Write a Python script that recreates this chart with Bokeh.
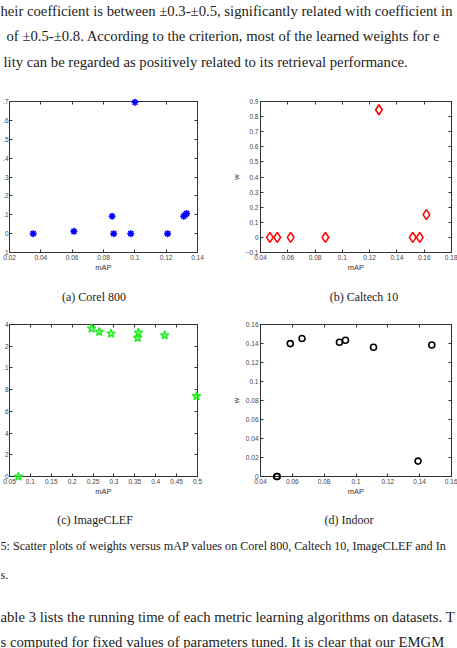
from bokeh.plotting import figure
from bokeh.layouts import column, row
from bokeh.models import Range1d, FixedTicker, CustomJSTickFormatter, LinearAxis
from bokeh.core.properties import value
from bokeh.embed import file_html
from bokeh.resources import INLINE

# ---------------- data ----------------
corel_map = [0.0351, 0.0611, 0.0855, 0.0865, 0.0974, 0.1001, 0.1209, 0.1312, 0.1322, 0.1331]
corel_w = [0.0, 0.012, 0.092, 0.0, 0.0, 0.696, 0.0, 0.092, 0.100, 0.107]

caltech_map = [0.0469, 0.0523, 0.0621, 0.0876, 0.1268, 0.1516, 0.1567, 0.1616]
caltech_w = [0.0, 0.0, 0.0, 0.0, 0.845, 0.0, 0.0, 0.151]

clef_map = [0.0712, 0.2467, 0.2648, 0.2931, 0.3568, 0.3584, 0.4213, 0.4976]
clef_w = [0.0, 0.1363, 0.1332, 0.1317, 0.1277, 0.1326, 0.1301, 0.074]

indoor_map = [0.0502, 0.0505, 0.0587, 0.0661, 0.0896, 0.0934, 0.1110, 0.1390, 0.1476]
indoor_w = [0.0, 0.0, 0.1399, 0.1452, 0.1413, 0.1434, 0.1360, 0.0162, 0.1385]

# ---------------- ticks / tick labels ----------------
corel_xticks = [0.02, 0.04, 0.06, 0.08, 0.10, 0.12, 0.14]
corel_xlabels = ["0.02", "0.04", "0.06", "0.08", "0.1", "0.12", "0.14"]
corel_yticks = [-0.1, 0.0, 0.1, 0.2, 0.3, 0.4, 0.5, 0.6, 0.7]
corel_ylabels = ["1", "0", ".1", ".2", ".3", ".4", ".5", ".6", ".7"]   # cut at page edge

caltech_xticks = [0.04, 0.06, 0.08, 0.10, 0.12, 0.14, 0.16, 0.18]
caltech_xlabels = ["0.04", "0.06", "0.08", "0.1", "0.12", "0.14", "0.16", "0.18"]
caltech_yticks = [-0.1, 0.0, 0.1, 0.2, 0.3, 0.4, 0.5, 0.6, 0.7, 0.8, 0.9]
caltech_ylabels = ["\u22120.1", "0", "0.1", "0.2", "0.3", "0.4", "0.5", "0.6", "0.7", "0.8", "0.9"]

clef_xticks = [0.05, 0.10, 0.15, 0.20, 0.25, 0.30, 0.35, 0.40, 0.45, 0.50]
clef_xlabels = ["0.05", "0.1", "0.15", "0.2", "0.25", "0.3", "0.35", "0.4", "0.45", "0.5"]
clef_yticks = [0.0, 0.02, 0.04, 0.06, 0.08, 0.10, 0.12, 0.14]
clef_ylabels = ["0", "2", "4", "6", "8", ".1", "2", "4"]   # cut at page edge

indoor_xticks = [0.04, 0.06, 0.08, 0.10, 0.12, 0.14, 0.16]
indoor_xlabels = ["0.04", "0.06", "0.08", "0.1", "0.12", "0.14", "0.16"]
indoor_yticks = [0.0, 0.02, 0.04, 0.06, 0.08, 0.10, 0.12, 0.14, 0.16]
indoor_ylabels = ["0", "0.02", "0.04", "0.06", "0.08", "0.1", "0.12", "0.14", "0.16"]

# ---------------- text ----------------
top_lines = [
    "heir coefficient is between \u00b10.3-\u00b10.5, significantly related with coefficient in",
    "of \u00b10.5-\u00b10.8.  According to the criterion, most of the learned weights for e",
    "lity can be regarded as positively related to its retrieval performance.",
]
sub_captions = ["(a)  Corel 800", "(b)  Caltech 10", "(c)  ImageCLEF", "(d)  Indoor"]
fig_caption = [
    "5: Scatter plots of weights versus mAP values on Corel 800, Caltech 10, ImageCLEF and In",
    "s.",
]
bottom_lines = [
    "able 3 lists the running time of each metric learning algorithms on datasets. T",
    "s computed for fixed values of parameters tuned. It is clear that our EMGM",
]

AX = "#333333"
TL = "#444444"
SANS = "Liberation Sans"
SERIF = "Liberation Serif"
TXT = "#1c1c1c"

FMT_CODE = """
let best = 0;
for (let i = 0; i < vals.length; i++) {
  if (Math.abs(vals[i] - tick) < Math.abs(vals[best] - tick)) best = i;
}
return labs[best];
"""


def fmt(vals, labs):
    return CustomJSTickFormatter(args=dict(vals=vals, labs=labs), code=FMT_CODE)


def style_axis(ax, ticks, labels, standoff):
    ax.ticker = FixedTicker(ticks=ticks)
    ax.formatter = fmt(ticks, labels)
    ax.axis_line_color = AX
    ax.major_tick_line_color = AX
    ax.major_tick_in = 3
    ax.major_tick_out = 0
    ax.minor_tick_line_color = None
    ax.major_label_text_font = SANS
    ax.major_label_text_font_size = "6.5px"
    ax.major_label_text_color = TL
    ax.major_label_standoff = standoff
    ax.axis_label_text_font = SANS
    ax.axis_label_text_font_size = "7.5px"
    ax.axis_label_text_font_style = "normal"
    ax.axis_label_text_color = AX


def dummy_axis(ticks):
    ax = LinearAxis(ticker=FixedTicker(ticks=ticks),
                    formatter=CustomJSTickFormatter(code="return '';"))
    ax.axis_line_color = AX
    ax.major_tick_line_color = AX
    ax.major_tick_in = 3
    ax.major_tick_out = 0
    ax.minor_tick_line_color = None
    ax.major_label_text_font_size = "0px"
    ax.major_label_standoff = 0
    return ax


def make_plot(w, h, xr, yr, xt, xl, yt, yl, ylabel, bl, br, bt, bb, ystandoff):
    p = figure(width=w, height=h, x_range=Range1d(*xr), y_range=Range1d(*yr),
               output_backend="svg", toolbar_location=None,
               min_border_left=bl, min_border_right=br,
               min_border_top=bt, min_border_bottom=bb)
    p.grid.visible = False
    p.outline_line_color = AX
    p.outline_line_width = 1
    style_axis(p.xaxis[0], xt, xl, 2)
    style_axis(p.yaxis[0], yt, yl, ystandoff)
    p.xaxis[0].axis_label = "mAP"
    p.xaxis[0].axis_label_standoff = 0
    if ylabel:
        p.yaxis[0].axis_label = ylabel
        p.yaxis[0].axis_label_standoff = 2
    p.add_layout(dummy_axis(xt), "above")
    p.add_layout(dummy_axis(yt), "right")
    p.background_fill_color = "white"
    p.border_fill_color = "white"
    return p


def text_fig(h):
    p = figure(width=457, height=h, x_range=Range1d(0, 457), y_range=Range1d(h, 0),
               output_backend="svg", toolbar_location=None,
               x_axis_type=None, y_axis_type=None, min_border=0)
    p.outline_line_color = None
    p.background_fill_color = "white"
    p.border_fill_color = "white"
    return p


# ---------------- top text ----------------
top = text_fig(95)
top.text(x=[0, 6, 3], y=[10, 35, 61.5], text=top_lines,
         text_font=value(SERIF), text_font_size=value("14.7px"),
         text_baseline="middle", text_align="left", text_color=TXT)

# ---------------- row 1 ----------------
pa = make_plot(228, 180, (0.02, 0.14), (-0.1, 0.7), corel_xticks, corel_xlabels,
               corel_yticks, corel_ylabels, None, 6, 31, 6, 23, 1)
pa.scatter(corel_map, corel_w, marker="asterisk", size=7, line_color="blue",
           line_width=1.6, level="overlay")

pb = make_plot(229, 180, (0.04, 0.18), (-0.1, 0.9), caltech_xticks, caltech_xlabels,
               caltech_yticks, caltech_ylabels, "w", 32, 6, 6, 23, 2)
pb.scatter(caltech_map, caltech_w, marker="diamond", size=10, line_color="red",
           fill_color=None, line_width=1.6, level="overlay")

cap1 = text_fig(35)
cap1.text(x=[95, 365], y=[21, 21], text=sub_captions[:2],
          text_font=value(SERIF), text_font_size=value("12px"),
          text_baseline="middle", text_align="center", text_color=TXT)

# ---------------- row 2 ----------------
pc = make_plot(228, 190, (0.05, 0.5), (0.0, 0.14), clef_xticks, clef_xlabels,
               clef_yticks, clef_ylabels, None, 6, 31, 14, 24, 1)
pc.scatter(clef_map, clef_w, marker="star", size=9, line_color="#22ee22",
           fill_color="#44ff44", fill_alpha=0.6, line_width=1.4, level="overlay")

pd_ = make_plot(229, 190, (0.04, 0.16), (0.0, 0.16), indoor_xticks, indoor_xlabels,
                indoor_yticks, indoor_ylabels, "w", 32, 6, 14, 24, 2)
pd_.scatter(indoor_map, indoor_w, marker="circle", size=6, line_color="black",
            fill_color=None, line_width=1.6, level="overlay")

# ---------------- bottom text ----------------
bot = text_fig(148)
bot.text(x=[96, 350], y=[19.5, 19.5], text=sub_captions[2:],
         text_font=value(SERIF), text_font_size=value("12px"),
         text_baseline="middle", text_align="center", text_color=TXT)
bot.text(x=[0, 0], y=[45, 74], text=fig_caption,
         text_font=value(SERIF), text_font_size=value("12.1px"),
         text_baseline="middle", text_align="left", text_color=TXT)
bot.text(x=[0, 0], y=[116, 141], text=bottom_lines,
         text_font=value(SERIF), text_font_size=value("14.7px"),
         text_baseline="middle", text_align="left", text_color=TXT)

layout = column(top, row(pa, pb), cap1, row(pc, pd_), bot)

open("out.html", "w").write(file_html(layout, INLINE))
